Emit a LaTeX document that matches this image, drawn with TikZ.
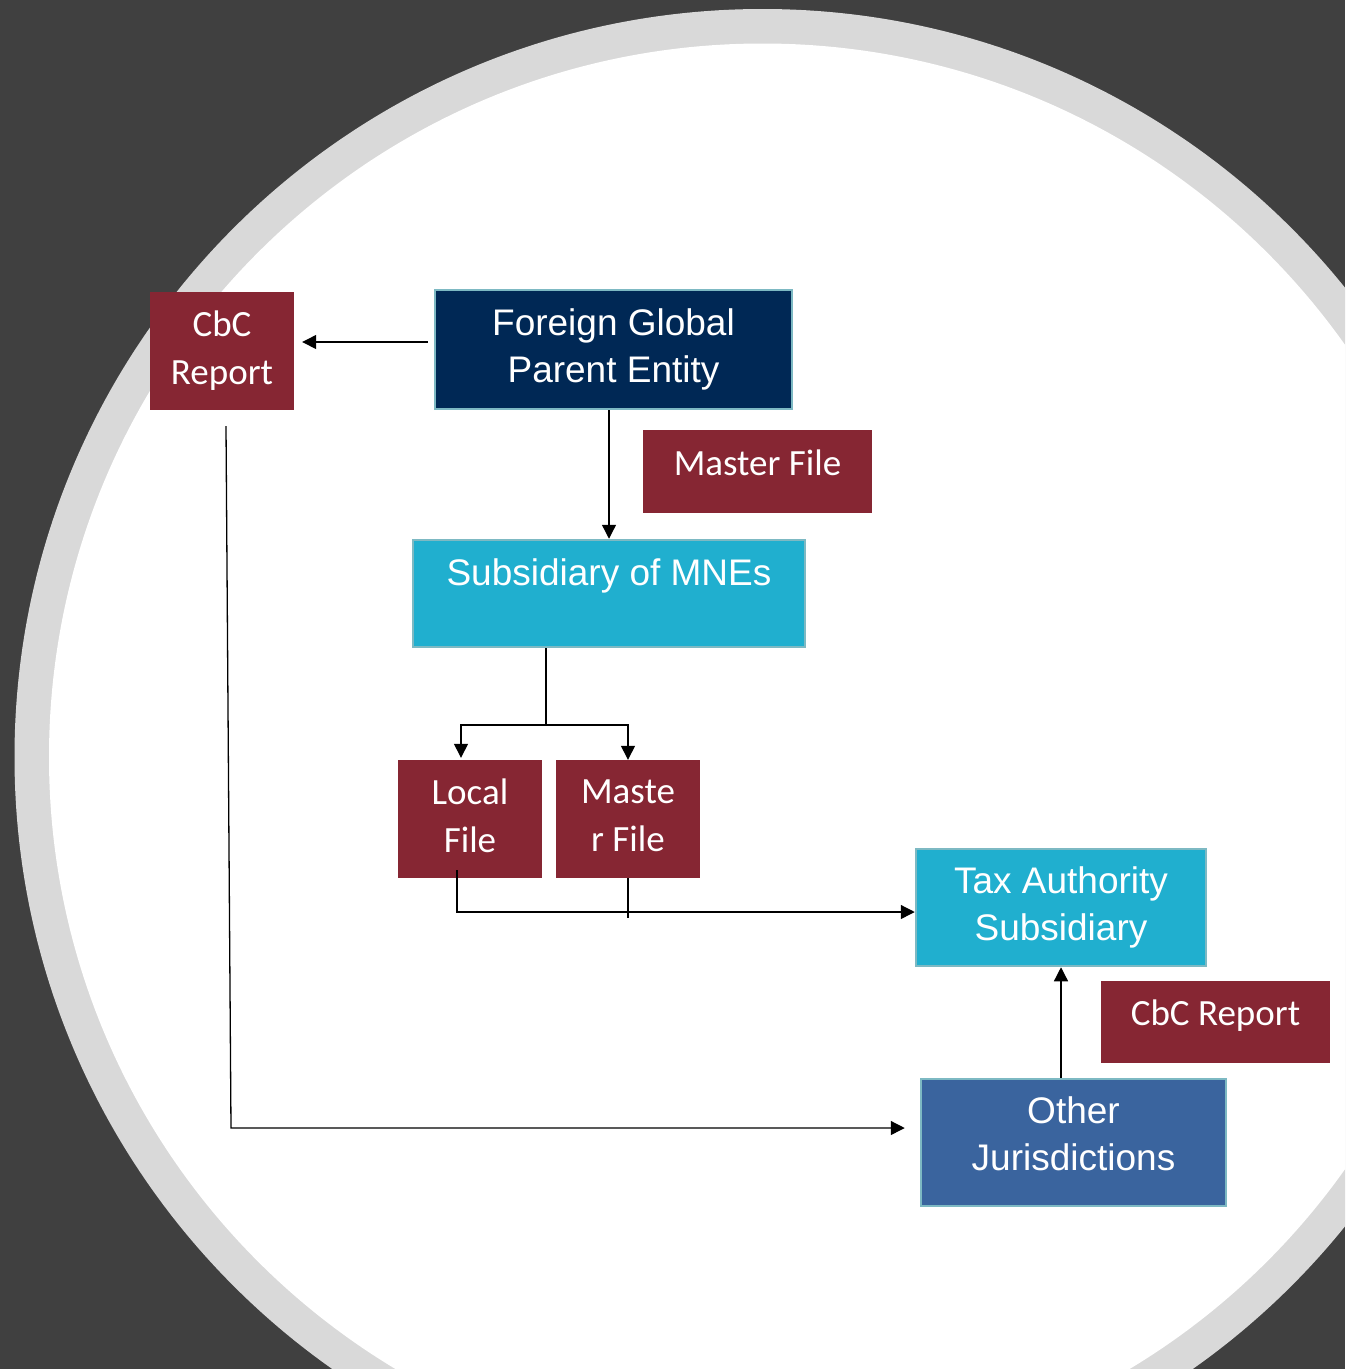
\documentclass[tikz,border=0pt]{standalone}
\usepackage{fontspec}
\newfontfamily\arialfont{Liberation Sans}
\newfontfamily\calfont{Carlito}
\usetikzlibrary{arrows.meta, positioning, calc}
\definecolor{slategray}{RGB}{64,64,64}
\definecolor{ringgray}{RGB}{217,217,217}
\definecolor{docred}{RGB}{134,38,51}
\definecolor{parentnavy}{RGB}{0,40,85}
\definecolor{subcyan}{RGB}{32,175,207}
\definecolor{jurblue}{RGB}{58,100,158}
\definecolor{edgeteal}{RGB}{125,185,195}

\begin{document}
\begin{tikzpicture}[x=1pt, y=-1pt,
  doc/.style={fill=docred, text=white, font=\calfont\fontsize{37}{48}\selectfont, align=center, inner sep=0pt},
  entity/.style={draw=edgeteal, line width=2.5pt, text=white, font=\arialfont\fontsize{37}{47}\selectfont, align=center, inner sep=0pt},
  flow/.style={-{Triangle[length=14pt, width=14pt]}, line width=1.3pt},
  link/.style={line width=1.3pt}
]
  % Backdrop and ring
  \fill[slategray] (0,0) rectangle (1345,1369);
  \begin{scope}
    \clip (0,0) rectangle (1345,1369);
    \fill[ringgray] (762.5,757) circle[radius=748pt];
    \fill[white] (762.5,757) circle[radius=713.5pt];
  \end{scope}

  % Parent side
  \node[doc, minimum width=144pt, minimum height=118pt] (cbcL) at (222,351) {CbC\\Report};
  \node[entity, fill=parentnavy, minimum width=357pt, minimum height=119pt] (parent) at (613.5,349.5) {Foreign Global\\Parent Entity};
  \node[doc, minimum width=229pt, minimum height=83pt, text depth=18pt] (mfTop) at (757.5,471.5) {Master File};

  % Subsidiary and its files
  \node[entity, fill=subcyan, minimum width=392pt, minimum height=107pt, text depth=43pt] (subsid) at (609,593.5) {Subsidiary of MNEs};
  \node[doc, minimum width=144pt, minimum height=118pt, text depth=6pt] (localF) at (470,819) {Local\\File};
  \node[doc, minimum width=144pt, minimum height=118pt, text depth=6pt] (masterF) at (628,819) {Maste\\r File};

  % Receiving side
  \node[entity, fill=subcyan, minimum width=290pt, minimum height=117pt] (taxSub) at (1061,907.5) {Tax Authority\\Subsidiary};
  \node[doc, minimum width=229pt, minimum height=82pt, text depth=18pt] (cbcR) at (1215.5,1022) {CbC Report};
  \node[entity, fill=jurblue, minimum width=305pt, minimum height=127pt, text depth=17pt] (otherJ) at (1073.5,1142.5) {Other\\Jurisdictions};

  % Arrows
  \draw[flow, shorten <=6pt, shorten >=8pt] ([yshift=7.5pt]parent.west) -- ([yshift=9pt]cbcL.east);
  \draw[flow] (subsid.north |- parent.south) -- (subsid.north);

  \coordinate (split) at (546,725);
  \draw[link] (split |- subsid.south) -- (split);
  \draw[flow, shorten >=2pt] (split) -| ([xshift=-9pt]localF.north);
  \draw[flow] (split) -| (masterF.north);

  \draw[flow] ([xshift=-13pt, yshift=8pt]localF.south) |- ([yshift=-4.5pt]taxSub.west);
  \coordinate (mfEnd) at (628,918);
  \draw[link] (masterF.south) -- (mfEnd);

  \coordinate (bend) at (231,1128);
  \draw[flow, shorten >=15pt] ([xshift=4pt, yshift=-16pt]cbcL.south) -- (bend) -- (bend -| otherJ.west);
  \draw[flow] (taxSub.south |- otherJ.north) -- (taxSub.south);
\end{tikzpicture}
\end{document}
